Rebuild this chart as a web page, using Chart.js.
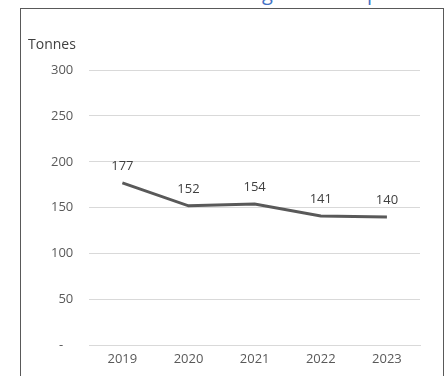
<!DOCTYPE html>
<html>
<head>
<meta charset="utf-8">
<script src="https://cdn.jsdelivr.net/npm/chart.js@4/dist/chart.umd.min.js"></script>
<style>
  html, body { margin: 0; padding: 0; background: #fff; }
  #wrap { position: relative; width: 448px; height: 376px; overflow: hidden; }
  #chart { position: absolute; left: 0; top: 0; }
  #box { position: absolute; left: 20px; top: 8px; width: 422px; height: 400px;
         border: 1.5px solid #595959; pointer-events: none; }
  #title { position: absolute; left: 77px; top: -17px; font: 20px/20px 'Open Sans', sans-serif;
           letter-spacing: 1px; color: #4472c4; white-space: nowrap; }
  #unit { position: absolute; left: 28px; top: 34px; font: 14px 'Open Sans', sans-serif; color: #404040; }
</style>
</head>
<body>
<div id="wrap">
  <div id="title">Total Waste Arising for Group</div>
  <canvas id="chart" width="448" height="376"></canvas>
  <div id="box"></div>
  <div id="unit">Tonnes</div>
</div>
<script>
// chart data
const years = ['2019', '2020', '2021', '2022', '2023'];
const tonnes = [177, 152, 154, 141, 140];
const yTicks = [0, 50, 100, 150, 200, 250, 300];

Chart.defaults.font.family = "'Open Sans', sans-serif";
Chart.defaults.font.size = 13;
Chart.defaults.color = '#595959';

// value labels above the line
const valueLabels = {
    id: 'valueLabels',
    afterDatasetsDraw(chart) {
        const ctx = chart.ctx;
        const meta = chart.getDatasetMeta(0);
        ctx.save();
        ctx.font = "13px 'Open Sans', sans-serif";
        ctx.fillStyle = '#404040';
        ctx.textAlign = 'center';
        ctx.textBaseline = 'middle';
        meta.data.forEach((pt, i) => {
            ctx.fillText(tonnes[i], pt.x, pt.y - 17);
        });
        ctx.restore();
    },
};

new Chart(document.getElementById('chart'), {
    type: 'line',
    data: {
        labels: years,
        datasets: [{
            data: tonnes,
            borderColor: '#595959',
            borderWidth: 3,
            pointRadius: 0,
            tension: 0,
        }],
    },
    options: {
        responsive: false,
        animation: false,
        layout: {
            padding: { top: 70, left: 35, right: 28, bottom: 3 },
        },
        plugins: {
            legend: { display: false },
            tooltip: { enabled: false },
        },
        scales: {
            x: {
                offset: true,
                grid: { display: false, drawTicks: false },
                border: { display: true, color: '#d9d9d9' },
                ticks: { padding: 6, color: '#595959' },
            },
            y: {
                min: 0,
                max: 300,
                afterBuildTicks: (axis) => { axis.ticks = yTicks.map((v) => ({ value: v })); },
                grid: { color: '#d9d9d9', drawTicks: false },
                border: { display: false },
                ticks: {
                    padding: 16,
                    color: '#595959',
                    callback: (v) => (v === 0 ? '-   ' : v),
                },
            },
        },
    },
    plugins: [valueLabels],
});
</script>
</body>
</html>
